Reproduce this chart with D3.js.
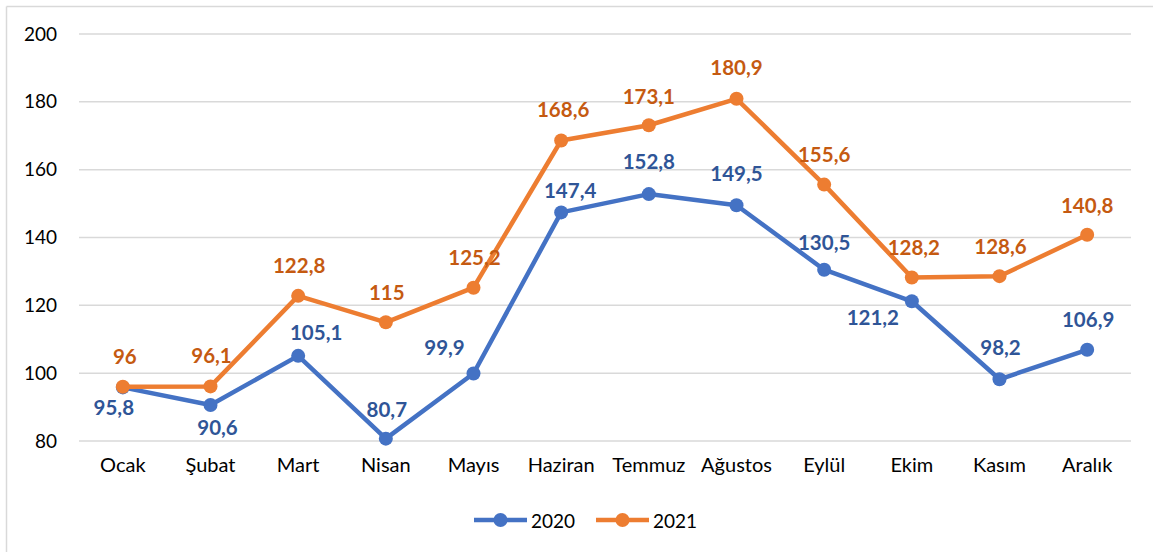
<!DOCTYPE html>
<html>
<head>
<meta charset="utf-8">
<script src="https://cdn.jsdelivr.net/npm/d3@7"></script>
<style>
  body { margin: 0; background: #fff; }
  svg { display: block; font-family: Lato, "Noto Sans", sans-serif; }
</style>
</head>
<body>
<div id="chart"></div>
<script>
// data
var months = ["Ocak", "Şubat", "Mart", "Nisan", "Mayıs", "Haziran", "Temmuz", "Ağustos", "Eylül", "Ekim", "Kasım", "Aralık"];
var values2020 = [95.8, 90.6, 105.1, 80.7, 99.9, 147.4, 152.8, 149.5, 130.5, 121.2, 98.2, 106.9];
var values2021 = [96, 96.1, 122.8, 115, 125.2, 168.6, 173.1, 180.9, 155.6, 128.2, 128.6, 140.8];
var yTicks = [80, 100, 120, 140, 160, 180, 200];
var seriesNames = ["2020", "2021"];

// label nudges (dx, dy from the point), like the hand placed labels in the original
var nudge2020 = [[-9, 20], [7, 22], [18, -24], [1, -30], [-29, -27], [9, -22], [0, -33], [0, -32], [0, -28], [-39, 16], [1, -32], [1, -31]];
var nudge2021 = [[2, -31], [1, -31], [1, -31], [1, -30], [1, -31], [2, -31], [0, -29], [0, -32], [0, -31], [2, -31], [1, -30], [0, -30]];

var width = 1153, height = 552;
var margin = { top: 34, right: 22, bottom: 111, left: 79 };

var svg = d3.select("#chart").append("svg")
    .attr("width", width).attr("height", height);

// chart frame (only top and left edges show in the crop)
svg.append("line").attr("x1", 6.5).attr("x2", width).attr("y1", 6.5).attr("y2", 6.5)
    .attr("stroke", "#d9d9d9").attr("stroke-width", 1.5);
svg.append("line").attr("x1", 6.5).attr("x2", 6.5).attr("y1", 6.5).attr("y2", height)
    .attr("stroke", "#d9d9d9").attr("stroke-width", 1.5);

var x = d3.scaleBand().domain(months)
    .range([margin.left, width - margin.right]);
var y = d3.scaleLinear().domain([80, 200])
    .range([441, margin.top]);

var cx = function(d, i) { return x(months[i]) + x.bandwidth() / 2; };

// gridlines + y labels
var grid = svg.append("g");
grid.selectAll("line").data(yTicks).enter().append("line")
    .attr("x1", margin.left).attr("x2", width - margin.right)
    .attr("y1", function(d) { return y(d); }).attr("y2", function(d) { return y(d); })
    .attr("stroke", "#d9d9d9").attr("stroke-width", 1.5);

var yAxis = svg.append("g").attr("transform", "translate(57,0)")
    .call(d3.axisLeft(y).tickValues(yTicks).tickSize(0).tickPadding(0));
yAxis.select(".domain").remove();
yAxis.selectAll("text").attr("font-size", 19).attr("fill", "#000")
    .attr("font-family", "Lato, 'Noto Sans', sans-serif");

var xAxis = svg.append("g").attr("transform", "translate(0,455)")
    .call(d3.axisBottom(x).tickSize(0).tickPadding(3));
xAxis.select(".domain").remove();
xAxis.selectAll("text").attr("font-size", 20).attr("fill", "#000")
    .attr("font-family", "Lato, 'Noto Sans', sans-serif");

var series = [
  { name: seriesNames[0], values: values2020, line: "#4472c4", label: "#2f5597", nudge: nudge2020 },
  { name: seriesNames[1], values: values2021, line: "#ed7d31", label: "#c55a11", nudge: nudge2021 }
];

var line = d3.line()
    .x(function(d, i) { return cx(d, i); })
    .y(function(d) { return y(d); });

series.forEach(function(s) {
  var g = svg.append("g");
  g.append("path").datum(s.values).attr("d", line)
      .attr("fill", "none").attr("stroke", s.line)
      .attr("stroke-width", 4.5).attr("stroke-linejoin", "round");
  g.selectAll("circle").data(s.values).enter().append("circle")
      .attr("cx", cx).attr("cy", function(d) { return y(d); })
      .attr("r", 7).attr("fill", s.line);
});

// data labels drawn after all lines so they sit on top
series.forEach(function(s) {
  svg.append("g").selectAll("text").data(s.values).enter().append("text")
      .attr("x", function(d, i) { return cx(d, i) + s.nudge[i][0]; })
      .attr("y", function(d, i) { return y(d) + s.nudge[i][1]; })
      .attr("text-anchor", "middle").attr("dominant-baseline", "central")
      .attr("font-size", 20.5).attr("font-weight", "bold").attr("fill", s.label)
      .text(function(d) { return String(d).replace(".", ","); });
});

// legend
var legend = svg.append("g").attr("transform", "translate(474,520)");
series.forEach(function(s, i) {
  var lg = legend.append("g").attr("transform", "translate(" + (i * 122) + ",0)");
  lg.append("line").attr("x1", 0).attr("x2", 53).attr("y1", 0).attr("y2", 0)
      .attr("stroke", s.line).attr("stroke-width", 4.5);
  lg.append("circle").attr("cx", 26.5).attr("cy", 0).attr("r", 7).attr("fill", s.line);
  lg.append("text").attr("x", 57).attr("y", 0).attr("dominant-baseline", "central")
      .attr("font-size", 19).attr("fill", "#000").text(s.name);
});
</script>
</body>
</html>
